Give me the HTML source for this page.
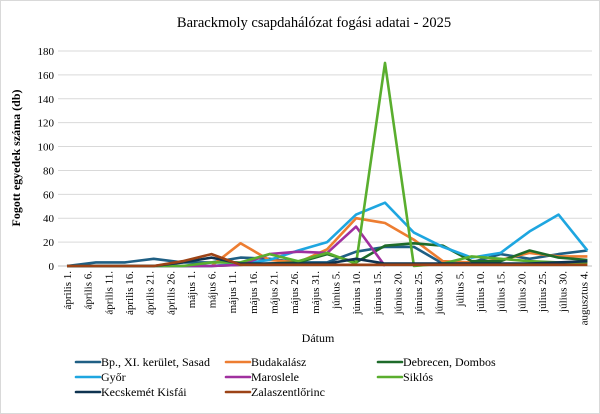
<!DOCTYPE html>
<html><head><meta charset="utf-8"><style>
body{margin:0;background:#fff}
svg{display:block;font-family:"Liberation Serif",serif}
</style></head><body>
<svg id="c" width="600" height="414">
<rect x="0.5" y="0.5" width="599" height="413" fill="#fff" stroke="#d9d9d9"/>
<text x="314" y="27" font-size="14.5" text-anchor="middle">Barackmoly csapdahálózat fogási adatai - 2025</text>
<text transform="translate(20,158) rotate(-90)" font-size="12" font-weight="bold" text-anchor="middle">Fogott egyedek száma (db)</text>
<text x="318" y="342" font-size="12" text-anchor="middle">Dátum</text>
<g id="grid"></g><g id="xl"></g><g id="lines"></g><g id="leg"></g>
</svg>
<script>
const tickLabels=["április 1.","április 6.","április 11.","április 16.","április 21.","április 26.","május 1.","május 6.","május 11.","május 16.","május 21.","május 26.","május 31.","június 5.","június 10.","június 15.","június 20.","június 25.","június 30.","július 5.","július 10.","július 15.","július 20.","július 25.","július 30.","augusztus 4."];
const yTicks=[0,20,40,60,80,100,120,140,160,180];
const sampleDays=[0,7,14,21,28,35,42,49,56,63,70,77,84,91,98,105,112,119,126];
const seriesNames=["Bp., XI. kerület, Sasad","Budakalász","Debrecen, Dombos","Győr","Maroslele","Siklós","Kecskemét Kisfái","Zalaszentlőrinc"];
const seriesColors=["#1f5f84","#ed7d31","#1e6b2a","#1ea6e0","#a0309f","#5aae2e","#0e3350","#9c4316"];
const sBp=[0,3,3,6,3,3,7,6,3,3,12,16,16,2,3,10,6,10,13];
const sBuda=[0,0,0,0,0,0,19,5,3,14,40,36,22,4,3,5,11,8,8];
const sDeb=[0,0,0,0,0,0,1,2,3,10,3,17,19,17,4,4,13,7,5];
const sGyor=[0,0,0,0,0,0,2,5,13,20,43,53,28,16,7,11,29,43,13];
const sMaro=[0,0,0,0,0,0,1,10,12,11,33,0,null,null,null,null,null,null,null];
const sSik=[0,0,0,0,0,3,3,10,4,11,2,170,0,2,8,6,4,3,3];
const sKecs=[0,0,0,0,3,7,2,2,2,2,6,2,2,2,2,2,2,3,4];
const sZala=[0,0,0,0,4,10,1,1,1,1,1,1,1,1,1,1,1,1,1];
const seriesData=[sBp,sBuda,sDeb,sGyor,sMaro,sSik,sKecs,sZala];
const NS="http://www.w3.org/2000/svg";
const X0=67,DAY=4.13,Y0=266,Y1=51;
const x=d=>X0+d*DAY;
const y=v=>Y0-v*(Y0-Y1)/180;
function mk(t,a,p){const e=document.createElementNS(NS,t);for(const k in a)e.setAttribute(k,a[k]);p.appendChild(e);return e;}
const g=document.getElementById('grid');
yTicks.forEach(v=>{
 const l=mk('line',{x1:58,x2:592,y1:y(v),y2:y(v),stroke:v?'#d9d9d9':'#bfbfbf','stroke-width':1},g);
 
 
 const t=mk('text',{x:54,y:y(v)+4,'font-size':11,'text-anchor':'end'},g);t.textContent=v;
 
 
});
const xl=document.getElementById('xl');
tickLabels.forEach((c,i)=>{
 const t=mk('text',{transform:`translate(${x(i*5)+4},271) rotate(-90)`,'font-size':11,'text-anchor':'end'},xl);t.textContent=c;
 
 
});
const lg=document.getElementById('lines');
seriesData.forEach((d,s)=>{
 let p='';d.forEach((v,i)=>{if(v==null)return;p+=(p?'L':'M')+x(sampleDays[i]).toFixed(1)+','+y(v).toFixed(1);});
 const e=mk('path',{d:p,fill:'none',stroke:seriesColors[s],'stroke-width':2.6,'stroke-linejoin':'round'},lg);
 
 
});
const leg=document.getElementById('leg');
const cols=[76,226,378],rows=[362,377,392];
seriesNames.forEach((n,s)=>{
 const cx=cols[s%3],cy=rows[Math.floor(s/3)];
 const gg=mk('g',{},leg);
 
 
 mk('line',{x1:cx,x2:cx+24,y1:cy,y2:cy,stroke:seriesColors[s],'stroke-width':2.6,'stroke-linecap':'round'},gg);
 const t=mk('text',{x:cx+25,y:cy+4,'font-size':12},gg);t.textContent=n;
});
</script>
</body></html>
